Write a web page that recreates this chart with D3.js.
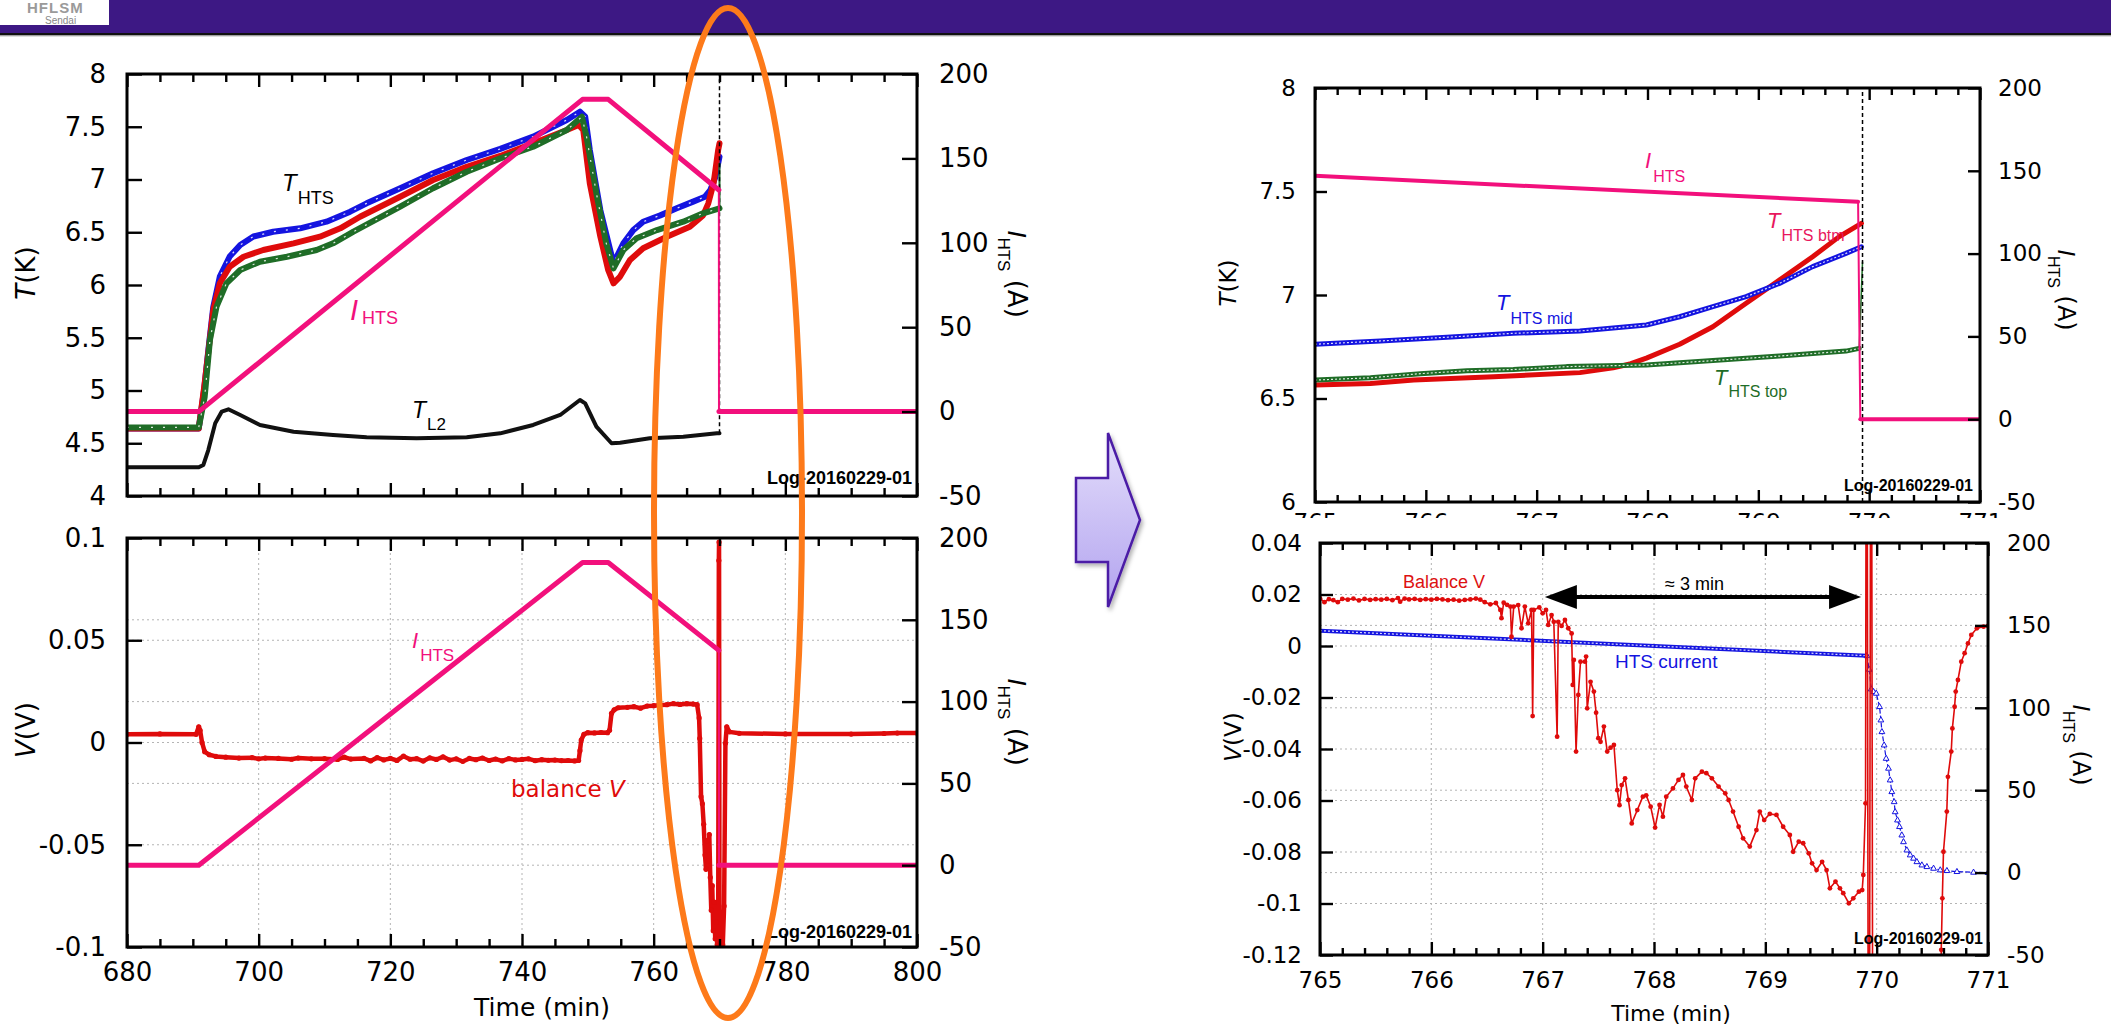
<!DOCTYPE html>
<html>
<head>
<meta charset="utf-8">
<title>HTS coil quench log 2016-02-29</title>
<script src="https://cdn.jsdelivr.net/npm/d3@7"></script>
<style>
  html, body { margin: 0; padding: 0; background: #fff; overflow: hidden; }
  svg { display: block; }
</style>
</head>
<body>
<script>
// ---------- tick values ----------
const wideTimeTicks = [680, 700, 720, 740, 760, 780, 800];
const zoomTimeTicks = [765, 766, 767, 768, 769, 770, 771];
const wideTempTicks = [4, 4.5, 5, 5.5, 6, 6.5, 7, 7.5, 8];
const zoomTempTicks = [6, 6.5, 7, 7.5, 8];
const wideVoltTicks = [-0.1, -0.05, 0, 0.05, 0.1];
const zoomVoltTicks = [-0.12, -0.1, -0.08, -0.06, -0.04, -0.02, 0, 0.02, 0.04];
const currentTicks = [-50, 0, 50, 100, 150, 200];

// ---------- HTS coil current programme [min, A] ----------
const iHts = [[680, 0], [690.9, 0], [749.2, 185], [753.1, 185], [769.9, 131.3], [769.92, 0], [800, 0]];

// ---------- temperatures over the full run [min, K] ----------
const tMidWide = [[680,4.64],[690.9,4.64],[691.7,5.0],[692.35,5.38],[693.1,5.79],[694.1,6.08],[695.6,6.27],[697.2,6.38],[699.2,6.46],[702.2,6.505],[706.3,6.537],[710.3,6.6],[713.9,6.695],[716.4,6.774],[721.5,6.917],[726.5,7.06],[731.6,7.185],[736.7,7.29],[741.7,7.406],[746.8,7.564],[748.8,7.643],[749.6,7.595],[750.3,7.28],[751.9,6.71],[753.4,6.33],[753.9,6.206],[755.4,6.395],[756.9,6.52],[758.4,6.6],[761,6.66],[763.5,6.727],[766,6.79],[767.8,6.837],[768.6,6.9],[769.4,7.027],[770,7.216]];
const tBtmWide = [[680,4.64],[690.9,4.64],[691.8,5.07],[693.1,5.76],[694.1,6.016],[695.6,6.173],[697.7,6.268],[700.7,6.332],[705.3,6.395],[709.3,6.458],[712.4,6.537],[715.4,6.647],[721.5,6.837],[726.5,6.995],[731.6,7.121],[736.7,7.223],[741.7,7.343],[746.8,7.469],[748.6,7.517],[749.3,7.47],[750.3,6.964],[751.9,6.458],[753.1,6.14],[753.9,6.016],[754.9,6.08],[756.4,6.237],[758.4,6.348],[762,6.458],[765.5,6.553],[767.5,6.66],[768.3,6.774],[769.1,6.964],[769.8,7.28],[770,7.343]];
const tTopWide = [[680,4.65],[690.9,4.65],[691.8,4.94],[692.6,5.479],[693.6,5.795],[695.1,6.016],[697.2,6.142],[700.2,6.221],[704.3,6.268],[708.8,6.332],[711.3,6.395],[714.4,6.505],[721.5,6.742],[726.5,6.917],[731.6,7.074],[736.7,7.2],[741.7,7.311],[746.8,7.469],[749.1,7.595],[749.8,7.406],[751.3,6.869],[752.8,6.395],[753.9,6.158],[755.4,6.332],[757.4,6.443],[760.5,6.521],[764.5,6.6],[767.5,6.68],[770,6.727],[770,7.15]];
const tL2Wide = [[680,4.272],[690.9,4.272],[691.6,4.294],[692.35,4.436],[693.4,4.69],[694.4,4.8],[695.4,4.822],[697.2,4.768],[700.2,4.673],[705.3,4.609],[711.3,4.578],[716.4,4.556],[724,4.547],[731.6,4.556],[736.7,4.594],[741.7,4.673],[745.8,4.768],[748.8,4.91],[749.6,4.878],[751.3,4.657],[753.6,4.5],[754.9,4.505],[759.4,4.547],[764.5,4.562],[769.6,4.594],[770,4.594]];

// ---------- balance voltage over the full run [min, V] ----------
const balanceVWide = [[680,0.004],[685,0.0042],[690.5,0.004],[690.9,0.0077],[691.1,0.006],[691.4,0.0],[691.8,-0.0045],[692.5,-0.006],[693.5,-0.0068],[695,-0.0072],[697,-0.0076],[699,-0.0074],[700,-0.008],[701,-0.0076],[703,-0.0078],[705,-0.0082],[706,-0.0076],[708,-0.008],[710,-0.0079],[712,-0.0083],[713,-0.0072],[714,-0.0081],[716,-0.0078],[717,-0.009],[718,-0.0074],[719,-0.0085],[720,-0.0078],[721,-0.0088],[722,-0.0067],[723,-0.0082],[724,-0.0079],[725,-0.0091],[726,-0.0075],[727,-0.0083],[728,-0.007],[729,-0.0086],[730,-0.008],[731,-0.0093],[732,-0.0078],[733,-0.0084],[734,-0.0076],[735,-0.0088],[736,-0.0081],[737,-0.009],[738,-0.0079],[739,-0.0085],[740,-0.0083],[741,-0.008],[742,-0.0089],[743,-0.0084],[744,-0.0087],[745,-0.0086],[746,-0.0089],[747,-0.0088],[748,-0.009],[748.6,-0.0088],[748.8,-0.004],[749,0.0012],[749.4,0.004],[750,0.0048],[751,0.0047],[752,0.0049],[753,0.0048],[753.3,0.006],[753.6,0.0143],[754,0.016],[754.6,0.017],[756,0.0172],[757,0.0175],[758,0.0168],[759,0.0178],[760,0.018],[761,0.0183],[762,0.0185],[763,0.019],[764,0.0186],[765,0.019],[766,0.0188],[766.6,0.0185],[766.9,0.012],[767,0.002],[767.2,-0.0265],[767.4,-0.03],[767.6,-0.04],[767.8,-0.055],[767.95,-0.062],[768.1,-0.048],[768.3,-0.058],[768.45,-0.045],[768.6,-0.066],[768.75,-0.082],[768.9,-0.07],[769.05,-0.092],[769.2,-0.078],[769.35,-0.096],[769.5,-0.088],[769.65,-0.099],[769.8,-0.097],[769.9,0.089],[769.93,0.098],[770,-0.099],[770.3,-0.099],[770.5,-0.099],[770.7,-0.08],[770.9,-0.0004],[771.1,0.0077],[771.5,0.0052],[773,0.0045],[780,0.0042],[790,0.0041],[795,0.0044],[797,0.0046],[800,0.0046]];

// ---------- temperatures around the quench [min, K] ----------
const tMidZoom = [[765,6.762],[765.59,6.778],[766.19,6.796],[766.79,6.815],[767.39,6.826],[767.99,6.855],[768.29,6.895],[768.59,6.944],[768.89,6.992],[769.19,7.056],[769.49,7.137],[769.79,7.201],[769.93,7.233]];
const tBtmZoom = [[765,6.565],[765.5,6.573],[765.89,6.589],[766.61,6.605],[767.39,6.625],[767.69,6.648],[767.85,6.668],[767.99,6.695],[768.29,6.762],[768.59,6.847],[768.89,6.96],[769.19,7.072],[769.49,7.185],[769.73,7.282],[769.93,7.346]];
const tTopZoom = [[765,6.589],[765.5,6.6],[765.95,6.62],[766.37,6.634],[766.79,6.64],[767.27,6.654],[767.99,6.662],[768.59,6.683],[769.19,6.705],[769.79,6.729],[769.91,6.742],[769.94,7.16]];

// ---------- balance voltage and HTS current around the quench ----------
const balanceVZoom = [[765,0.0185],[765.04,0.017],[765.08,0.0182],[765.12,0.0178],[765.16,0.017],[765.2,0.0183],[765.25,0.018],[765.3,0.0184],[765.35,0.0177],[765.4,0.0183],[765.45,0.0179],[765.5,0.0182],[765.55,0.018],[765.6,0.0183],[765.65,0.0178],[765.7,0.0186],[765.72,0.0172],[765.76,0.0184],[765.8,0.0181],[765.85,0.0183],[765.9,0.0179],[765.95,0.0182],[766,0.018],[766.05,0.0183],[766.1,0.0181],[766.15,0.0178],[766.2,0.018],[766.25,0.0176],[766.3,0.0179],[766.35,0.0181],[766.4,0.0184],[766.44,0.018],[766.48,0.017],[766.53,0.0162],[766.58,0.0167],[766.62,0.014],[766.63,0.0108],[766.65,0.0168],[766.68,0.016],[766.71,0.0153],[766.72,0.0036],[766.74,0.0153],[766.78,0.0159],[766.81,0.0069],[766.84,0.0153],[766.87,0.0088],[766.9,0.014],[766.91,-0.0272],[766.92,0.014],[766.97,0.015],[767,0.0127],[767.03,0.014],[767.05,0.0082],[767.08,0.012],[767.1,0.0094],[767.13,-0.0352],[767.14,0.0094],[767.17,0.0078],[767.2,0.0101],[767.23,0.0069],[767.26,0.0049],[767.27,-0.0151],[767.28,-0.0054],[767.3,-0.041],[767.32,-0.019],[767.34,-0.0061],[767.38,-0.0061],[767.39,-0.0041],[767.4,-0.0242],[767.43,-0.0139],[767.46,-0.0177],[767.48,-0.0259],[767.5,-0.0358],[767.52,-0.0372],[767.55,-0.0313],[767.58,-0.041],[767.61,-0.0395],[767.64,-0.0384],[767.67,-0.056],[767.69,-0.0618],[767.71,-0.054],[767.74,-0.0514],[767.77,-0.0598],[767.8,-0.0689],[767.85,-0.0637],[767.9,-0.0585],[767.93,-0.058],[767.97,-0.0624],[768.01,-0.0705],[768.05,-0.0617],[768.08,-0.0663],[768.11,-0.0585],[768.17,-0.0553],[768.22,-0.052],[768.26,-0.0501],[768.29,-0.0546],[768.34,-0.0598],[768.37,-0.0514],[768.43,-0.0488],[768.47,-0.0494],[768.52,-0.0514],[768.58,-0.0546],[768.64,-0.0572],[768.67,-0.0598],[768.71,-0.0643],[768.76,-0.0702],[768.8,-0.0747],[768.86,-0.0779],[768.92,-0.0715],[768.95,-0.0643],[768.99,-0.0676],[769.04,-0.0652],[769.1,-0.0656],[769.16,-0.0702],[769.22,-0.0734],[769.25,-0.0799],[769.3,-0.076],[769.34,-0.0766],[769.39,-0.0805],[769.42,-0.0844],[769.46,-0.087],[769.51,-0.0838],[769.55,-0.087],[769.58,-0.0941],[769.63,-0.0915],[769.67,-0.0941],[769.7,-0.096],[769.75,-0.0999],[769.79,-0.098],[769.84,-0.0954],[769.87,-0.0948],[769.88,-0.0889],[769.9,-0.0611],[769.91,0.2],[769.93,-0.3],[769.95,0.2],[769.97,-0.3],[770.55,-0.3],[770.58,-0.118],[770.59,-0.098],[770.6,-0.0799],[770.63,-0.0643],[770.64,-0.0508],[770.67,-0.041],[770.68,-0.032],[770.7,-0.0236],[770.71,-0.0177],[770.73,-0.0132],[770.76,-0.0061],[770.79,-0.0028],[770.82,0.001],[770.85,0.0043],[770.9,0.0069],[770.96,0.0075],[771,0.0078]];
const htsCurrentZoom = [[765,146.8],[769.912,131.6],[769.933,123.3],[769.951,111.4],[769.972,109.8],[769.996,108.8],[770.026,100.7],[770.038,92.6],[770.047,85.5],[770.067,77.4],[770.085,69.3],[770.106,63.3],[770.121,56.2],[770.136,49.1],[770.157,43],[770.166,36.9],[770.187,31.9],[770.205,27.9],[770.226,22.8],[770.241,18.7],[770.271,13.7],[770.301,10.7],[770.331,8.7],[770.361,6.6],[770.406,4.6],[770.451,3.6],[770.511,2.6],[770.571,1.6],[770.631,1.2],[770.721,0.6],[770.87,0.2],[771,0]];

// ---------- drawing ----------
const W = 2111, H = 1028;
const NUM_FONT = "'DejaVu Sans', sans-serif";
const LBL_FONT = "'Liberation Sans', Arial, sans-serif";
const C = { blue: '#1414e0', red: '#df0b0b', green: '#1f6d27', pink: '#f2107c', black: '#111' };

const svg = d3.select('body').append('svg').attr('width', W).attr('height', H);
const defs = svg.append('defs');

// header band with logo
svg.append('rect').attr('width', W).attr('height', 34).attr('fill', '#3d1884');
svg.append('rect').attr('y', 33).attr('width', W).attr('height', 2.5).attr('fill', '#111');
svg.append('rect').attr('y', 35.5).attr('width', W).attr('height', 1).attr('fill', '#bbb');
svg.append('rect').attr('width', 109).attr('height', 25).attr('fill', '#fff');
svg.append('text').attr('x', 27).attr('y', 13).attr('font-family', LBL_FONT).attr('font-weight', 'bold')
  .attr('font-size', 15).attr('letter-spacing', 1).attr('fill', '#9a9a9a').text('HFLSM');
svg.append('text').attr('x', 45).attr('y', 23.5).attr('font-family', LBL_FONT)
  .attr('font-size', 10).attr('fill', '#888').text('Sendai');

function makePanel(id, box, xDomain, yLDomain, yRDomain) {
  const x = d3.scaleLinear().domain(xDomain).range([box.left, box.right]);
  const yL = d3.scaleLinear().domain(yLDomain).range([box.bottom, box.top]);
  const yR = d3.scaleLinear().domain(yRDomain).range([box.bottom, box.top]);
  defs.append('clipPath').attr('id', id).append('rect')
    .attr('x', box.left).attr('y', box.top)
    .attr('width', box.right - box.left).attr('height', box.bottom - box.top);
  const root = svg.append('g');
  const grid = root.append('g');
  const plot = root.append('g').attr('clip-path', `url(#${id})`);
  const axes = root.append('g');
  const notes = root.append('g');
  return { id, x, yL, yR, box, grid, plot, axes, notes };
}

function drawGrid(p, xVals, yLVals, yRVals) {
  const { x, yL, yR, box } = p;
  const g = p.grid.attr('stroke', '#b4b4b4').attr('stroke-width', 1).attr('stroke-dasharray', '2,3');
  xVals.forEach(v => g.append('line').attr('x1', x(v)).attr('x2', x(v)).attr('y1', box.top).attr('y2', box.bottom));
  yLVals.forEach(v => g.append('line').attr('x1', box.left).attr('x2', box.right).attr('y1', yL(v)).attr('y2', yL(v)));
  yRVals.forEach(v => g.append('line').attr('x1', box.left).attr('x2', box.right).attr('y1', yR(v)).attr('y2', yR(v)));
}

function drawAxes(p, o) {
  const { x, yL, yR, box } = p;
  const style = sel => {
    sel.select('.domain').remove();
    sel.selectAll('line').attr('stroke', '#000').attr('stroke-width', 2.4);
    sel.attr('font-family', NUM_FONT).attr('font-size', o.fontSize).attr('color', '#000');
  };
  const fmt = d => String(d);
  const blank = () => '';
  const bottomWrap = p.axes.append('g');
  if (o.xClipBottom) {
    defs.append('clipPath').attr('id', p.id + '-xl').append('rect')
      .attr('x', 0).attr('y', 0).attr('width', W).attr('height', o.xClipBottom);
    bottomWrap.attr('clip-path', `url(#${p.id}-xl)`);
  }
  bottomWrap.append('g').attr('transform', `translate(0,${box.bottom})`)
    .call(d3.axisBottom(x).tickValues(o.xMajor).tickSize(-o.xMajorLen).tickPadding(o.xPad)
      .tickFormat(o.xLabels ? fmt : blank)).call(style);
  p.axes.append('g').attr('transform', `translate(0,${box.bottom})`)
    .call(d3.axisBottom(x).tickValues(o.xMinor).tickSize(-o.xMinorLen).tickFormat(blank)).call(style);
  p.axes.append('g').attr('transform', `translate(0,${box.top})`)
    .call(d3.axisTop(x).tickValues(o.xMajor).tickSize(-o.xMajorLen).tickFormat(blank)).call(style);
  p.axes.append('g').attr('transform', `translate(0,${box.top})`)
    .call(d3.axisTop(x).tickValues(o.xMinor).tickSize(-o.xMinorLen).tickFormat(blank)).call(style);
  p.axes.append('g').attr('transform', `translate(${box.left},0)`)
    .call(d3.axisLeft(yL).tickValues(o.yLTicks).tickSize(-o.yLen).tickPadding(o.yLPad).tickFormat(fmt)).call(style);
  p.axes.append('g').attr('transform', `translate(${box.right},0)`)
    .call(d3.axisRight(yR).tickValues(currentTicks).tickSize(-o.yLen).tickPadding(o.yRPad).tickFormat(fmt)).call(style);
  p.axes.append('rect').attr('x', box.left).attr('y', box.top)
    .attr('width', box.right - box.left).attr('height', box.bottom - box.top)
    .attr('fill', 'none').attr('stroke', '#000').attr('stroke-width', 3);
}

function trace(p, yScale, data, color, width, extra) {
  const line = d3.line().x(d => p.x(d[0])).y(d => yScale(d[1]));
  const path = p.plot.append('path').datum(data).attr('d', line)
    .attr('fill', 'none').attr('stroke', color).attr('stroke-width', width)
    .attr('stroke-linejoin', 'round').attr('stroke-linecap', 'round');
  if (extra && extra.dash) path.attr('stroke-dasharray', extra.dash).attr('stroke-linecap', 'butt');
  return path;
}

// open-marker look: coloured band with a light dotted core
function bandTrace(p, yScale, data, color, width, core) {
  trace(p, yScale, data, color, width);
  trace(p, yScale, data, '#ffffff', 1.2, { dash: core }).attr('stroke-opacity', 0.85);
}

function dots(p, yScale, data, color, r) {
  p.plot.append('g').selectAll('circle').data(data).join('circle')
    .attr('cx', d => p.x(d[0])).attr('cy', d => yScale(d[1])).attr('r', r).attr('fill', color);
}

function triangles(p, yScale, data, color, s) {
  p.plot.append('g').selectAll('path').data(data).join('path')
    .attr('d', d => {
      const cx = p.x(d[0]), cy = yScale(d[1]);
      return `M${cx},${cy - s}L${cx + s * 0.9},${cy + s * 0.6}L${cx - s * 0.9},${cy + s * 0.6}Z`;
    })
    .attr('fill', '#fff').attr('stroke', color).attr('stroke-width', 1);
}

// text with italic symbols and subscripts
function rich(g, x, y, parts, o) {
  const t = g.append('text').attr('x', x).attr('y', y)
    .attr('font-family', o.font || LBL_FONT).attr('font-size', o.size)
    .attr('fill', o.color || '#000').attr('text-anchor', o.anchor || 'start');
  if (o.rotate) t.attr('transform', `rotate(${o.rotate},${x},${y})`);
  if (o.weight) t.attr('font-weight', o.weight);
  let shift = 0;
  parts.forEach(pt => {
    const s = t.append('tspan').text(pt.t);
    const target = pt.dy || 0;
    if (target !== shift) { s.attr('dy', target - shift); shift = target; }
    if (pt.size) s.attr('font-size', pt.size);
    if (pt.it) s.attr('font-style', 'italic');
    if (pt.dx) s.attr('dx', pt.dx);
    if (pt.font) s.attr('font-family', pt.font);
  });
  return t;
}

function pinkCurrent(p, width) {
  trace(p, p.yR, iHts.slice(0, 5), C.pink, width);
  trace(p, p.yR, iHts.slice(4, 6), C.pink, 2);
  trace(p, p.yR, iHts.slice(5), C.pink, width);
}

const wideMinor = d3.range(680, 801, 5).filter(v => v % 20 !== 0);
const zoomMinor = d3.range(765, 771.001, 0.2).map(v => +v.toFixed(1)).filter(v => Math.abs(v - Math.round(v)) > 0.01);

// ===== upper left: temperatures and current over the run =====
const pA = makePanel('clipA', { left: 127, right: 917, top: 74, bottom: 496 }, [680, 800], [4, 8], [-50, 200]);
bandTrace(pA, pA.yL, tMidWide, C.blue, 6, '2,10');
trace(pA, pA.yL, tBtmWide, C.red, 6);
bandTrace(pA, pA.yL, tTopWide.slice(0, -1), C.green, 6, '2,10');
trace(pA, pA.yL, tTopWide.slice(-2), C.green, 2);
trace(pA, pA.yL, tL2Wide, C.black, 4);
pA.plot.append('line').attr('x1', pA.x(770)).attr('x2', pA.x(770))
  .attr('y1', pA.yL(4.594)).attr('y2', pA.yL(8)).attr('stroke', '#000')
  .attr('stroke-width', 1.5).attr('stroke-dasharray', '4,3');
pinkCurrent(pA, 5);
drawAxes(pA, { xMajor: wideTimeTicks, xMinor: wideMinor, xMajorLen: 13, xMinorLen: 8, xLabels: false, xPad: 16,
  yLTicks: wideTempTicks, yLen: 15, yLPad: 21, yRPad: 22, fontSize: 26 });
rich(pA.notes, 282, 191, [{ t: 'T', it: true }, { t: 'HTS', size: 18, dy: 13, dx: 1 }], { size: 24 });
rich(pA.notes, 350, 320, [{ t: 'I', it: true }, { t: 'HTS', size: 18, dy: 4, dx: 4 }], { size: 29, color: C.pink });
rich(pA.notes, 412, 418, [{ t: 'T', it: true }, { t: 'L2', size: 17, dy: 12, dx: 1 }], { size: 23 });
pA.notes.append('text').attr('x', 912).attr('y', 484).attr('text-anchor', 'end')
  .attr('font-family', LBL_FONT).attr('font-weight', 'bold').attr('font-size', 18).text('Log-20160229-01');
rich(pA.notes, 35, 273, [{ t: 'T', it: true }, { t: '(K)' }], { size: 26, font: NUM_FONT, anchor: 'middle', rotate: -90 });
rich(pA.notes, 1008, 274, [{ t: 'I', it: true, font: LBL_FONT }, { t: 'HTS', size: 17, dy: 10, font: LBL_FONT }, { t: ' (A)', dy: 0 }],
  { size: 26, font: NUM_FONT, anchor: 'middle', rotate: 90 });

// ===== lower left: balance voltage over the run =====
const pB = makePanel('clipB', { left: 127, right: 917, top: 538, bottom: 947 }, [680, 800], [-0.1, 0.1], [-50, 200]);
drawGrid(pB, [700, 720, 740, 760, 780], [0.05, 0, -0.05], [150, 100, 50, 0]);
trace(pB, pB.yL, balanceVWide, C.red, 4.5);
dots(pB, pB.yL, balanceVWide, C.red, 2.6);
pinkCurrent(pB, 5);
drawAxes(pB, { xMajor: wideTimeTicks, xMinor: wideMinor, xMajorLen: 13, xMinorLen: 8, xLabels: true, xPad: 16,
  yLTicks: wideVoltTicks, yLen: 15, yLPad: 21, yRPad: 22, fontSize: 26 });
rich(pB.notes, 412, 648, [{ t: 'I', it: true }, { t: 'HTS', size: 17, dy: 13, dx: 2 }], { size: 22, color: C.pink });
rich(pB.notes, 511, 797, [{ t: 'balance ' }, { t: 'V', it: true }], { size: 23, font: NUM_FONT, color: C.red });
pB.notes.append('text').attr('x', 912).attr('y', 938).attr('text-anchor', 'end')
  .attr('font-family', LBL_FONT).attr('font-weight', 'bold').attr('font-size', 18).text('Log-20160229-01');
rich(pB.notes, 35, 730, [{ t: 'V', it: true }, { t: '(V)' }], { size: 26, font: NUM_FONT, anchor: 'middle', rotate: -90 });
rich(pB.notes, 1008, 722, [{ t: 'I', it: true, font: LBL_FONT }, { t: 'HTS', size: 17, dy: 10, font: LBL_FONT }, { t: ' (A)', dy: 0 }],
  { size: 26, font: NUM_FONT, anchor: 'middle', rotate: 90 });
pB.notes.append('text').attr('x', 542).attr('y', 1016).attr('text-anchor', 'middle')
  .attr('font-family', NUM_FONT).attr('font-size', 25).text('Time (min)');

// ===== upper right: temperatures around the quench =====
const pC = makePanel('clipC', { left: 1315, right: 1980, top: 88, bottom: 502 }, [765, 771], [6, 8], [-50, 200]);
trace(pC, pC.yL, tBtmZoom, C.red, 5);
bandTrace(pC, pC.yL, tTopZoom.slice(0, -1), C.green, 5, '2,2');
trace(pC, pC.yL, tTopZoom.slice(-2), C.green, 1.5);
bandTrace(pC, pC.yL, tMidZoom, C.blue, 5, '2,2');
pC.plot.append('line').attr('x1', pC.x(769.94)).attr('x2', pC.x(769.94))
  .attr('y1', pC.yL(6)).attr('y2', pC.yL(8)).attr('stroke', '#000')
  .attr('stroke-width', 1.5).attr('stroke-dasharray', '4,3');
pinkCurrent(pC, 4);
drawAxes(pC, { xMajor: zoomTimeTicks, xMinor: zoomMinor, xMajorLen: 12, xMinorLen: 7, xLabels: true, xPad: 12, xClipBottom: 518,
  yLTicks: zoomTempTicks, yLen: 12, yLPad: 19, yRPad: 18, fontSize: 23 });
rich(pC.notes, 1645, 168, [{ t: 'I', it: true }, { t: 'HTS', size: 16, dy: 14, dx: 2 }], { size: 22, color: C.pink });
rich(pC.notes, 1767, 228, [{ t: 'T', it: true }, { t: 'HTS btm', size: 16, dy: 13, dx: 1 }], { size: 22, color: '#e8175d' });
rich(pC.notes, 1496, 310, [{ t: 'T', it: true }, { t: 'HTS mid', size: 16, dy: 14, dx: 1 }], { size: 22, color: C.blue });
rich(pC.notes, 1714, 385, [{ t: 'T', it: true }, { t: 'HTS top', size: 16, dy: 12, dx: 1 }], { size: 22, color: C.green });
pC.notes.append('text').attr('x', 1973).attr('y', 491).attr('text-anchor', 'end')
  .attr('font-family', LBL_FONT).attr('font-weight', 'bold').attr('font-size', 16).text('Log-20160229-01');
rich(pC.notes, 1236, 283, [{ t: 'T', it: true }, { t: '(K)' }], { size: 23, font: NUM_FONT, anchor: 'middle', rotate: -90 });
rich(pC.notes, 2058, 290, [{ t: 'I', it: true, font: LBL_FONT }, { t: 'HTS', size: 16, dy: 10, font: LBL_FONT }, { t: ' (A)', dy: 0 }],
  { size: 24, font: NUM_FONT, anchor: 'middle', rotate: 90 });

// ===== lower right: balance voltage and HTS current around the quench =====
const pD = makePanel('clipD', { left: 1320, right: 1988, top: 543, bottom: 955 }, [765, 771], [-0.12, 0.04], [-50, 200]);
drawGrid(pD, [766, 767, 768, 769, 770], [0.02, 0, -0.02, -0.04, -0.06, -0.08, -0.1], [150, 100, 50, 0]);
bandTrace(pD, pD.yR, htsCurrentZoom.slice(0, 2), C.blue, 4, '2,2');
trace(pD, pD.yR, htsCurrentZoom.slice(1), C.blue, 1.2, { dash: '5,2' });
triangles(pD, pD.yR, htsCurrentZoom.slice(1), C.blue, 3.2);
trace(pD, pD.yL, balanceVZoom, C.red, 1.6);
dots(pD, pD.yL, balanceVZoom, C.red, 2.4);
drawAxes(pD, { xMajor: zoomTimeTicks, xMinor: zoomMinor, xMajorLen: 13, xMinorLen: 7, xLabels: true, xPad: 17,
  yLTicks: zoomVoltTicks, yLen: 13, yLPad: 18, yRPad: 19, fontSize: 23 });
pD.notes.append('text').attr('x', 1403).attr('y', 588).attr('font-family', LBL_FONT)
  .attr('font-size', 18).attr('fill', '#dd1111').text('Balance V');
pD.notes.append('text').attr('x', 1615).attr('y', 668).attr('font-family', LBL_FONT)
  .attr('font-size', 19).attr('fill', C.blue).text('HTS current');
pD.notes.append('text').attr('x', 1665).attr('y', 590).attr('font-family', LBL_FONT)
  .attr('font-size', 18).attr('fill', '#000').text('≈ 3 min');
// ~3 min span from the first voltage disturbance to the quench
{
  const xa = pD.x(767.02), xb = pD.x(769.86), ya = 597;
  pD.notes.append('line').attr('x1', xa + 20).attr('x2', xb - 20).attr('y1', ya).attr('y2', ya)
    .attr('stroke', '#000').attr('stroke-width', 4);
  pD.notes.append('path').attr('d', `M${xa},${ya}L${xa + 32},${ya - 12}L${xa + 32},${ya + 12}Z`).attr('fill', '#000');
  pD.notes.append('path').attr('d', `M${xb},${ya}L${xb - 32},${ya - 12}L${xb - 32},${ya + 12}Z`).attr('fill', '#000');
}
pD.notes.append('text').attr('x', 1983).attr('y', 944).attr('text-anchor', 'end')
  .attr('font-family', LBL_FONT).attr('font-weight', 'bold').attr('font-size', 16).text('Log-20160229-01');
rich(pD.notes, 1241, 737, [{ t: 'V', it: true }, { t: '(V)' }], { size: 23, font: NUM_FONT, anchor: 'middle', rotate: -90 });
rich(pD.notes, 2073, 745, [{ t: 'I', it: true, font: LBL_FONT }, { t: 'HTS', size: 16, dy: 10, font: LBL_FONT }, { t: ' (A)', dy: 0 }],
  { size: 24, font: NUM_FONT, anchor: 'middle', rotate: 90 });
pD.notes.append('text').attr('x', 1671).attr('y', 1021).attr('text-anchor', 'middle')
  .attr('font-family', NUM_FONT).attr('font-size', 22).text('Time (min)');

// ===== block arrow between the two columns =====
const grad = defs.append('linearGradient').attr('id', 'arrowFill').attr('x1', 0).attr('y1', 0).attr('x2', 0).attr('y2', 1);
grad.append('stop').attr('offset', '0%').attr('stop-color', '#e4defb');
grad.append('stop').attr('offset', '100%').attr('stop-color', '#b2a3ef');
const shadow = defs.append('filter').attr('id', 'arrowShadow').attr('x', '-30%').attr('y', '-30%').attr('width', '160%').attr('height', '160%');
shadow.append('feDropShadow').attr('dx', 2).attr('dy', 3).attr('stdDeviation', 2).attr('flood-color', '#000').attr('flood-opacity', 0.3);
svg.append('path')
  .attr('d', 'M1076,478L1108,478L1108,433L1140,520L1108,607L1108,562L1076,562Z')
  .attr('fill', 'url(#arrowFill)').attr('stroke', '#4b1ea6').attr('stroke-width', 2.5)
  .attr('stroke-linejoin', 'miter').attr('filter', 'url(#arrowShadow)');

// ===== highlight around the quench on the run overview =====
svg.append('ellipse').attr('cx', 728).attr('cy', 513).attr('rx', 74).attr('ry', 505)
  .attr('fill', 'none').attr('stroke', '#fd7a1a').attr('stroke-width', 6);
</script>
</body>
</html>
